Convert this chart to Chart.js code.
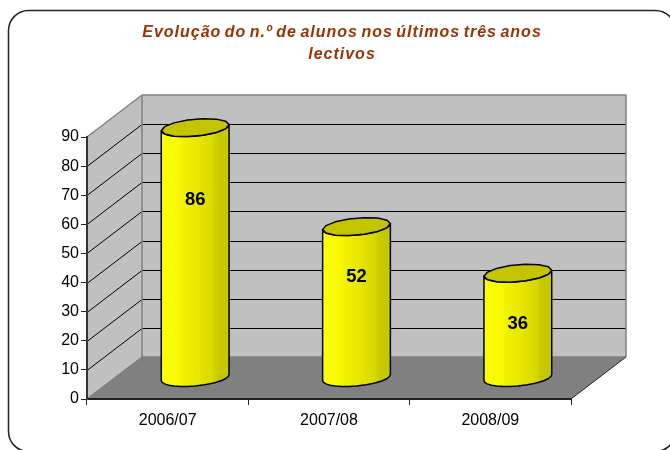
<!DOCTYPE html>
<html>
<head>
<meta charset="utf-8">
<script src="https://cdn.jsdelivr.net/npm/chart.js@4"></script>
<style>
  html, body { margin: 0; padding: 0; background: #fff; overflow: hidden; }
  #wrap { width: 684px; height: 460px; }
</style>
</head>
<body>
<div id="wrap"><canvas id="alunosChart" width="684" height="460"></canvas></div>
<script>
"use strict";

// DATA -----------------------
const categories = ["2006/07", "2007/08", "2008/09"];
const alunos = [86, 52, 36];
const titleLines = ["Evolução do n.º de alunos nos últimos três anos", "lectivos"];
const labelFractions = [0.71, 0.665, 0.51];

// STYLE -----------------------
const depthX = 55;
const depthY = 42;
const bandStops = [
  [0, '#ffff00'], [0.25, '#f8f800'], [0.35, '#f0f000'], [0.52, '#e8e800'],
  [0.62, '#e0e000'], [0.76, '#d8d800'], [0.85, '#c8c800'], [1, '#c8c800']
];

// cap outline: tilted ellipse sampled coarsely, like the original polygon look
function capPoint(cx, cy, halfWidth, t) {
  return [cx + halfWidth * Math.cos(t), cy - 3 * Math.cos(t) - 8.5 * Math.sin(t)];
}

function traceCap(ctx, cx, cy, halfWidth, from, to) {
  const steps = 14;
  for (let i = 0; i <= steps; i++) {
    const [x, y] = capPoint(cx, cy, halfWidth, from + (to - from) * i / steps);
    if (i === 0 && from === 0 && to === Math.PI * 2) ctx.moveTo(x, y);
    else ctx.lineTo(x, y);
  }
}

function line(ctx, x1, y1, x2, y2) {
  ctx.beginPath();
  ctx.moveTo(x1, y1);
  ctx.lineTo(x2, y2);
  ctx.stroke();
}

// Outer frame and the 3D walls, painted under the scales
const wallsPlugin = {
  id: 'walls',
  // Title is centred on the frame, not on the plot, and is set wide
  afterLayout(chart) {
    const title = chart.titleBlock;
    if (title.spaced) return;
    title.spaced = true;
    title.left = 0;
    title.right = chart.width;
    const drawTitle = title.draw.bind(title);
    title.draw = function () {
      const ctx = chart.ctx;
      ctx.letterSpacing = '1px';
      ctx.wordSpacing = '-2px';
      drawTitle();
      ctx.letterSpacing = '0px';
      ctx.wordSpacing = '0px';
    };
  },
  beforeDraw(chart) {
    const { ctx, chartArea: area, scales } = chart;
    const yScale = scales.y;
    ctx.save();

    ctx.beginPath();
    ctx.roundRect(8.5, 10.5, 667, 441, 20);
    ctx.strokeStyle = '#222';
    ctx.lineWidth = 1.5;
    ctx.stroke();

    // back wall
    ctx.fillStyle = '#c0c0c0';
    ctx.fillRect(area.left + depthX, area.top - depthY, area.width, area.height);
    // side wall
    ctx.beginPath();
    ctx.moveTo(area.left, area.top);
    ctx.lineTo(area.left + depthX, area.top - depthY);
    ctx.lineTo(area.left + depthX, area.bottom - depthY);
    ctx.lineTo(area.left, area.bottom);
    ctx.closePath();
    ctx.fill();
    // floor
    ctx.fillStyle = '#808080';
    ctx.beginPath();
    ctx.moveTo(area.left, area.bottom);
    ctx.lineTo(area.left + depthX, area.bottom - depthY);
    ctx.lineTo(area.right + depthX, area.bottom - depthY);
    ctx.lineTo(area.right, area.bottom);
    ctx.closePath();
    ctx.fill();

    // gridlines on both walls
    ctx.lineWidth = 1;
    ctx.strokeStyle = '#000';
    yScale.ticks.forEach(tick => {
      if (tick.value === 0 || tick.value === yScale.max) return;
      const y = Math.round(yScale.getPixelForValue(tick.value)) + 0.5;
      line(ctx, area.left, y, area.left + depthX, y - depthY);
      line(ctx, area.left + depthX, y - depthY, area.right + depthX, y - depthY);
    });

    // wall edges
    ctx.strokeStyle = '#808080';
    ctx.lineWidth = 1.5;
    line(ctx, area.left, area.top, area.left + depthX, area.top - depthY);
    line(ctx, area.left + depthX, area.top - depthY, area.right + depthX, area.top - depthY);
    line(ctx, area.right + depthX, area.top - depthY, area.right + depthX, area.bottom - depthY);
    line(ctx, area.left + depthX, area.top - depthY, area.left + depthX, area.bottom - depthY);
    line(ctx, area.left, area.bottom, area.left + depthX, area.bottom - depthY);
    line(ctx, area.left + depthX, area.bottom - depthY, area.right + depthX, area.bottom - depthY);

    ctx.strokeStyle = '#222';
    ctx.lineWidth = 1;
    line(ctx, area.right, area.bottom, area.right + depthX, area.bottom - depthY);
    ctx.restore();
  },
  // Replace the flat bars with cylinders standing mid-depth on the floor
  beforeDatasetDraw(chart, args) {
    const { ctx } = chart;
    const meta = args.meta;
    ctx.save();
    meta.data.forEach((bar, i) => {
      const cx = bar.x + depthX / 2;
      const halfWidth = bar.width / 2;
      const topY = bar.y - depthY / 2;
      const baseY = bar.base - depthY / 2;

      const bands = ctx.createLinearGradient(cx - halfWidth, 0, cx + halfWidth, 0);
      for (let s = 0; s < bandStops.length; s++) {
        bands.addColorStop(bandStops[s][0], bandStops[s][1]);
      }

      // body: left side down, bottom front arc, right side up, top front arc
      ctx.beginPath();
      const [leftX, leftY] = capPoint(cx, topY, halfWidth, Math.PI);
      ctx.moveTo(leftX, leftY);
      traceCap(ctx, cx, baseY, halfWidth, Math.PI, Math.PI * 2);
      traceCap(ctx, cx, topY, halfWidth, 0, -Math.PI);
      ctx.closePath();
      ctx.fillStyle = bands;
      ctx.fill();
      ctx.strokeStyle = '#000';
      ctx.lineWidth = 1.5;
      ctx.lineJoin = 'round';
      ctx.stroke();

      // cap
      ctx.beginPath();
      traceCap(ctx, cx, topY, halfWidth, 0, Math.PI * 2);
      ctx.closePath();
      ctx.fillStyle = '#c4c400';
      ctx.fill();
      ctx.stroke();

      // value label
      ctx.fillStyle = '#000';
      ctx.font = 'bold 18.5px "Liberation Sans", Arial, sans-serif';
      ctx.textAlign = 'center';
      ctx.textBaseline = 'middle';
      ctx.fillText(String(alunos[i]), cx, baseY - (baseY - topY) * labelFractions[i]);
    });
    ctx.restore();
    return false;
  }
};

const alunosChart = new Chart(document.getElementById('alunosChart').getContext('2d'), {
  type: 'bar',
  data: {
    labels: categories,
    datasets: [{
      data: alunos,
      backgroundColor: '#ffff00',
      borderColor: '#000',
      barPercentage: 0.42,
      categoryPercentage: 1
    }]
  },
  options: {
    responsive: false,
    animation: false,
    layout: { padding: { top: 22, right: 113, bottom: 0, left: 0 } },
    plugins: {
      legend: { display: false },
      tooltip: { enabled: false },
      title: {
        display: true,
        text: titleLines,
        color: '#993300',
        font: { family: '"Liberation Sans", Arial, sans-serif', size: 16, weight: 'bold', style: 'italic', lineHeight: 1.375 },
        padding: { top: 0, bottom: 71 }
      }
    },
    scales: {
      x: {
        afterFit(scale) { scale.height = 61; },
        grid: { drawOnChartArea: false, tickLength: 6, color: '#222', lineWidth: 1 },
        border: { color: '#222', width: 2 },
        ticks: {
          color: '#000',
          padding: 6,
          maxRotation: 0,
          font: { family: '"Liberation Sans", Arial, sans-serif', size: 16 }
        }
      },
      y: {
        min: 0,
        max: 90,
        afterFit(scale) { scale.width = 87; },
        grid: { drawOnChartArea: false, tickLength: 6, color: '#222', lineWidth: 1 },
        border: { color: '#333', width: 2 },
        ticks: {
          stepSize: 10,
          color: '#000',
          padding: 2,
          font: { family: '"Liberation Sans", Arial, sans-serif', size: 16 }
        }
      }
    }
  },
  plugins: [wallsPlugin]
});
</script>
</body>
</html>
